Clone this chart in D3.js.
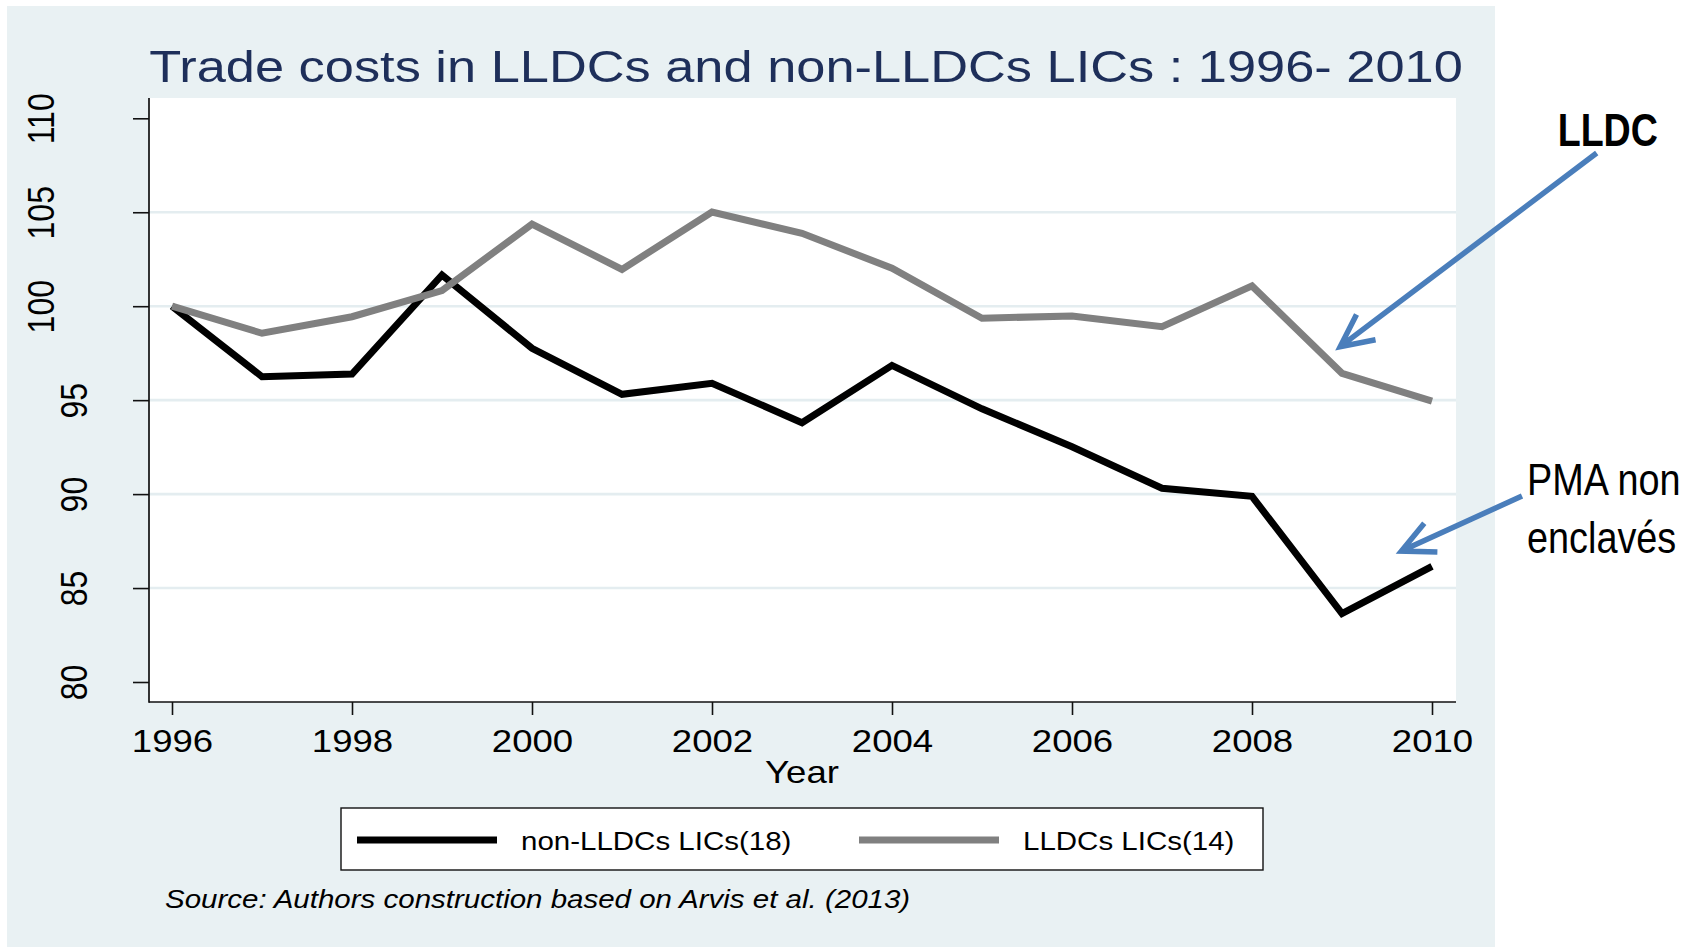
<!DOCTYPE html>
<html>
<head>
<meta charset="utf-8">
<script src="https://cdn.jsdelivr.net/npm/d3@7"></script>
<style>
  body { margin: 0; background: #fff; }
  svg { display: block; font-family: "Liberation Sans", Arial, sans-serif; }
</style>
</head>
<body>
<svg id="chart" width="1700" height="949"></svg>
<script>
// data
const years = [1996, 1997, 1998, 1999, 2000, 2001, 2002, 2003, 2004, 2005, 2006, 2007, 2008, 2009, 2010];
const nonLLDC = [100, 96.25, 96.39, 101.66, 97.76, 95.31, 95.9, 93.8, 96.85, 94.54, 92.52, 90.31, 89.88, 83.64, 86.15];
const LLDC = [100, 98.56, 99.44, 100.83, 104.37, 101.96, 105.01, 103.88, 102.02, 99.36, 99.48, 98.91, 101.08, 96.43, 94.95];

const xTicks = [1996, 1998, 2000, 2002, 2004, 2006, 2008, 2010];
const yTicks = [80, 85, 90, 95, 100, 105, 110];
const gridValues = [85, 90, 95, 100, 105];

const seriesNames = ["non-LLDCs LICs(18)", "LLDCs LICs(14)"];
const seriesColors = ["#000000", "#808080"];

const titleText = "Trade costs in LLDCs and non-LLDCs LICs : 1996- 2010";
const xTitle = "Year";
const sourceText = "Source: Authors construction based on Arvis et al. (2013)";

// annotation arrows, in data units (start, tip)
const lldcArrow = [[2011.83, 108.15], [2008.98, 97.85]];
const pmaArrow = [[2011.0, 89.9], [2009.66, 86.97]];

// the whole stata graph is stretched sideways in the picture
const sx = 1.18;

const svg = d3.select("#chart");

const plot = { left: 149, right: 1456, top: 98, bottom: 702 };

const x = d3.scaleLinear().domain([1996, 2010]).range([172, 1432]);
const y = d3.scaleLinear().domain([80, 110]).range([682, 118.3]);

// graph region background
svg.append("rect")
    .attr("x", 7).attr("y", 6)
    .attr("width", 1488).attr("height", 941)
    .attr("fill", "#e9f1f3");

// plot region
svg.append("rect")
    .attr("x", plot.left).attr("y", plot.top)
    .attr("width", plot.right - plot.left)
    .attr("height", plot.bottom - plot.top)
    .attr("fill", "#fff");

// grid
svg.append("g")
    .selectAll("line")
    .data(gridValues)
    .join("line")
    .attr("x1", plot.left).attr("x2", plot.right)
    .attr("y1", d => y(d)).attr("y2", d => y(d))
    .attr("stroke", "#e4edf0")
    .attr("stroke-width", 2.6);

// title
svg.append("text")
    .attr("transform", `translate(806,82) scale(1.19,1)`)
    .attr("text-anchor", "middle")
    .attr("font-size", 44)
    .attr("fill", "#1e2f5a")
    .text(titleText);

// x axis
let xAxisG = svg.append("g")
    .attr("transform", `translate(0,${plot.bottom})`)
    .call(d3.axisBottom(x).tickValues(xTicks).tickFormat(d3.format("d")).tickSize(13).tickSizeOuter(0));
xAxisG.select(".domain").remove();
xAxisG.selectAll(".tick line").attr("stroke", "#111").attr("stroke-width", 1.6);
xAxisG.selectAll(".tick text")
    .attr("y", 0).attr("dy", 0)
    .attr("transform", `translate(0,50) scale(${sx},1)`)
    .attr("font-size", 31)
    .attr("font-family", "Liberation Sans, Arial, sans-serif")
    .attr("fill", "#000");

// y axis
let yAxisG = svg.append("g")
    .attr("transform", `translate(${plot.left},0)`)
    .call(d3.axisLeft(y).tickValues(yTicks).tickSize(16).tickSizeOuter(0));
yAxisG.select(".domain").remove();
yAxisG.selectAll(".tick line").attr("stroke", "#111").attr("stroke-width", 1.6);
yAxisG.selectAll(".tick text")
    .attr("x", 0).attr("dy", 0)
    .attr("text-anchor", "middle")
    .attr("transform", d => {
        // two digit labels sit closer to the axis in the original
        let bx = String(d).length > 2 ? -95 : -62;
        return `translate(${bx},0) scale(${sx},1) rotate(-90)`;
    })
    .attr("font-size", 32)
    .attr("font-family", "Liberation Sans, Arial, sans-serif")
    .attr("fill", "#000");

// axis lines
svg.append("line")
    .attr("x1", plot.left).attr("x2", plot.left)
    .attr("y1", plot.top).attr("y2", plot.bottom + 0.8)
    .attr("stroke", "#111").attr("stroke-width", 1.7);
svg.append("line")
    .attr("x1", plot.left).attr("x2", plot.right)
    .attr("y1", plot.bottom).attr("y2", plot.bottom)
    .attr("stroke", "#111").attr("stroke-width", 1.7);

// x title
svg.append("text")
    .attr("transform", `translate(802,783) scale(${sx},1)`)
    .attr("text-anchor", "middle")
    .attr("font-size", 31)
    .text(xTitle);

// lines
let line = d3.line()
    .x((d, i) => x(years[i]))
    .y(d => y(d));

svg.append("g")
    .selectAll("path")
    .data([nonLLDC, LLDC])
    .join("path")
    .attr("d", line)
    .attr("fill", "none")
    .attr("stroke", (d, i) => seriesColors[i])
    .attr("stroke-width", 7)
    .attr("stroke-linejoin", "miter");

// legend
let legendG = svg.append("g");
legendG.append("rect")
    .attr("x", 341).attr("y", 808)
    .attr("width", 922).attr("height", 62)
    .attr("fill", "#fff")
    .attr("stroke", "#111")
    .attr("stroke-width", 1.4);

let legendItems = legendG.selectAll("g.item")
    .data(seriesNames)
    .join("g")
    .classed("item", true)
    .attr("transform", (d, i) => `translate(${[357, 859][i]},0)`);

legendItems.append("line")
    .attr("x1", 0).attr("x2", 140)
    .attr("y1", 840).attr("y2", 840)
    .attr("stroke", (d, i) => seriesColors[i])
    .attr("stroke-width", 7);

legendItems.append("text")
    .attr("transform", `translate(164,850) scale(${sx},1)`)
    .attr("font-size", 25)
    .text(d => d);

// source note
svg.append("text")
    .attr("transform", `translate(165,908) scale(${sx},1)`)
    .attr("font-size", 25)
    .attr("font-style", "italic")
    .text(sourceText);

// annotation arrows (added on top of the graph)
function arrowPath(pts) {
    let s = [x(pts[0][0]), y(pts[0][1])];
    let t = [x(pts[1][0]), y(pts[1][1])];
    let dx = s[0] - t[0], dy = s[1] - t[1];
    let len = Math.sqrt(dx * dx + dy * dy);
    let ux = dx / len, uy = dy / len;
    let L = 36, a = 26 * Math.PI / 180;
    let w1 = [t[0] + L * (ux * Math.cos(a) - uy * Math.sin(a)), t[1] + L * (ux * Math.sin(a) + uy * Math.cos(a))];
    let w2 = [t[0] + L * (ux * Math.cos(-a) - uy * Math.sin(-a)), t[1] + L * (ux * Math.sin(-a) + uy * Math.cos(-a))];
    return `M${s[0]},${s[1]}L${t[0]},${t[1]}M${w1[0]},${w1[1]}L${t[0]},${t[1]}L${w2[0]},${w2[1]}`;
}

svg.append("g")
    .selectAll("path")
    .data([lldcArrow, pmaArrow])
    .join("path")
    .attr("d", arrowPath)
    .attr("fill", "none")
    .attr("stroke", "#4a7ebb")
    .attr("stroke-width", 5.5)
    .attr("stroke-linejoin", "miter");

// annotation labels
let lx = x(lldcArrow[0][0]), ly = y(lldcArrow[0][1]);
svg.append("text")
    .attr("transform", `translate(${lx - 39},${ly - 7}) scale(0.8,1)`)
    .attr("font-size", 47)
    .attr("font-weight", "bold")
    .text("LLDC");

let px = x(pmaArrow[0][0]), py = y(pmaArrow[0][1]);
let pmaText = svg.append("text")
    .attr("transform", `translate(${px + 5},${py - 1}) scale(0.86,1)`)
    .attr("font-size", 44);
pmaText.append("tspan").attr("x", 0).attr("y", 0).text("PMA non");
pmaText.append("tspan").attr("x", 0).attr("y", 58).text("enclavés");
</script>
</body>
</html>
